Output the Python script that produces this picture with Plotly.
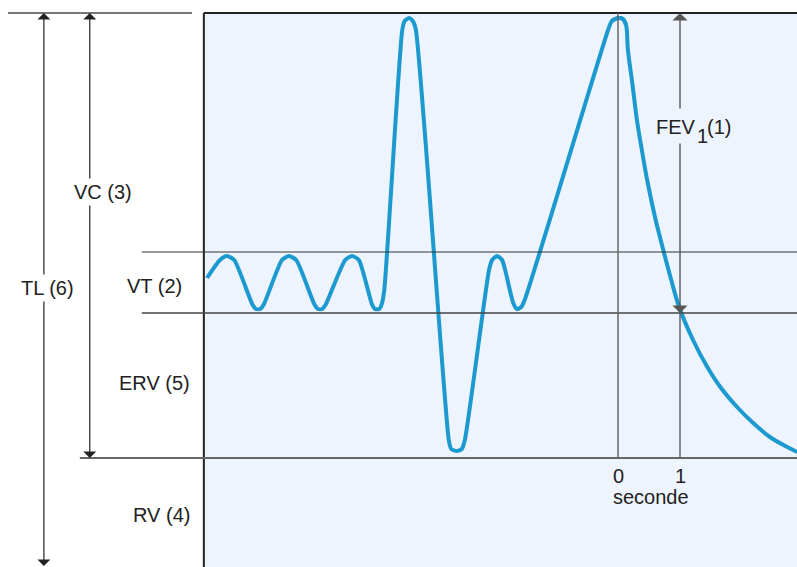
import plotly.graph_objects as go

# ---- data (time in seconds, volume in litres) ----
# breathing manoeuvre up to the maximal inspiration
curve_t = [-6.63, -6.42, -6.31, -6.19, -5.90, -5.84, -5.77, -5.71, -5.42, -5.31,
           -5.19, -4.90, -4.84, -4.77, -4.71, -4.40, -4.29, -4.18, -3.97, -3.92,
           -3.85, -3.81, -3.77, -3.48, -3.44, -3.37, -3.31, -3.26, -2.73, -2.69,
           -2.60, -2.52, -2.47, -2.08, -2.03, -1.95, -1.87, -1.82, -1.69, -1.63,
           -1.56, -1.50, -0.16, -0.10, 0.00, 0.08, 0.13]
curve_v = [2.89, 3.07, 3.11, 3.07, 2.63, 2.58, 2.58, 2.63, 3.07, 3.11,
           3.07, 2.63, 2.58, 2.58, 2.63, 3.07, 3.11, 3.07, 2.63, 2.58,
           2.58, 2.63, 2.77, 5.37, 5.46, 5.49, 5.46, 5.37, 1.27, 1.18,
           1.16, 1.18, 1.27, 2.97, 3.07, 3.11, 3.07, 2.97, 2.64, 2.58,
           2.60, 2.68, 5.37, 5.46, 5.49, 5.48, 5.42]
# forced expiration
forced_t = [-0.10, 0.00, 0.08, 0.13, 0.16, 0.23, 0.31, 0.39, 0.47, 0.60,
            0.73, 0.85, 0.98, 1.21, 1.44, 1.65, 1.92, 2.18, 2.45, 2.73, 2.89]
forced_v = [5.46, 5.49, 5.48, 5.42, 5.17, 4.84, 4.45, 4.15, 3.87, 3.49,
            3.17, 2.89, 2.61, 2.27, 2.00, 1.80, 1.60, 1.44, 1.30, 1.20, 1.15]

TLC = 5.54          # total lung capacity level
VT_TOP = 3.15       # end of tidal inspiration
FRC = 2.54          # end of tidal expiration
RV = 1.09           # residual volume level

X_MIN, X_MAX = -9.968, 2.887
PLOT_LEFT = -6.68
Y_MIN, Y_MAX = 0.0, 5.67

tick_times = [0, 1]
tick_labels = ["0", "1"]
time_unit = "seconde"

TL_X = -9.26
VC_X = -8.52
LEVEL_LINE_X = -7.68
RV_LINE_X = -8.68
TOP_LINE_X = (-9.84, -6.87)

labels = [
    ("VC (3)", -8.31, 3.75),
    ("TL (6)", -9.21, 2.79),
    ("VT (2)", -7.47, 2.81),
    ("ERV (5)", -7.48, 1.84),
    ("RV (4)", -7.37, 0.52),
]

BLUE = "#1C9AD0"
BG = "#EEF4FD"
TXT = "#222222"
FONT = "Liberation Sans, Arial, sans-serif"

fig = go.Figure()
fig.add_trace(go.Scatter(x=curve_t, y=curve_v, mode="lines",
                         line=dict(color=BLUE, width=4, shape="spline", smoothing=0.6),
                         hoverinfo="skip"))
fig.add_trace(go.Scatter(x=forced_t, y=forced_v, mode="lines",
                         line=dict(color=BLUE, width=4, shape="spline", smoothing=1.0),
                         hoverinfo="skip"))

shapes = [
    dict(type="rect", x0=PLOT_LEFT, x1=X_MAX + 0.1, y0=Y_MIN - 0.1, y1=TLC,
         fillcolor=BG, line=dict(width=0), layer="below"),
    dict(type="line", x0=PLOT_LEFT, x1=X_MAX + 0.1, y0=TLC, y1=TLC, line=dict(color="#222", width=2)),
    dict(type="line", x0=PLOT_LEFT, x1=PLOT_LEFT, y0=Y_MIN - 0.1, y1=TLC, line=dict(color="#222", width=2)),
    dict(type="line", x0=TOP_LINE_X[0], x1=TOP_LINE_X[1], y0=TLC, y1=TLC, line=dict(color="#777", width=2)),
    dict(type="line", x0=LEVEL_LINE_X, x1=X_MAX + 0.1, y0=VT_TOP, y1=VT_TOP, line=dict(color="#333", width=1.2)),
    dict(type="line", x0=LEVEL_LINE_X, x1=X_MAX + 0.1, y0=FRC, y1=FRC, line=dict(color="#444", width=1.5)),
    dict(type="line", x0=RV_LINE_X, x1=X_MAX + 0.1, y0=RV, y1=RV, line=dict(color="#666", width=2)),
    dict(type="line", x0=tick_times[0], x1=tick_times[0], y0=RV, y1=TLC, line=dict(color="#666", width=1.5)),
    dict(type="line", x0=tick_times[1], x1=tick_times[1], y0=RV, y1=FRC, line=dict(color="#666", width=1.5)),
]

ann = []
def arrow(x, tip, tail, color="#222", width=1.2):
    ann.append(dict(x=x, y=tip, ax=x, ay=tail, xref="x", yref="y", axref="x", ayref="y",
                    text="", showarrow=True, arrowhead=1, arrowsize=1.8, arrowwidth=width,
                    arrowcolor=color, standoff=0))

arrow(TL_X, TLC, 2.8)
arrow(TL_X, 0.01, 2.8)
arrow(VC_X, TLC, 3.75)
arrow(VC_X, RV, 3.75)
arrow(1, TLC, 4.57, "#555", 1.4)
arrow(1, FRC, 4.25, "#555", 1.4)

for txt, x, y in labels:
    ann.append(dict(x=x, y=y, xref="x", yref="y", text=txt, showarrow=False,
                    bgcolor="white", borderpad=2,
                    font=dict(family=FONT, size=20, color=TXT)))

ann.append(dict(x=0.935, y=4.40, xref="x", yref="y", text="FEV", showarrow=False,
                font=dict(family=FONT, size=20, color=TXT)))
ann.append(dict(x=1.355, y=4.31, xref="x", yref="y", text="1", showarrow=False,
                font=dict(family=FONT, size=20, color=TXT)))
ann.append(dict(x=1.63, y=4.40, xref="x", yref="y", text="(1)", showarrow=False,
                font=dict(family=FONT, size=20, color=TXT)))

for t, lab in zip(tick_times, tick_labels):
    ann.append(dict(x=t, y=0.91, xref="x", yref="y", text=lab, showarrow=False,
                    font=dict(family=FONT, size=20, color=TXT)))
ann.append(dict(x=0.53, y=0.70, xref="x", yref="y", text=time_unit, showarrow=False,
                font=dict(family=FONT, size=20, color=TXT)))

fig.update_layout(
    width=797, height=567,
    margin=dict(l=0, r=0, t=0, b=0),
    paper_bgcolor="white", plot_bgcolor="white",
    showlegend=False,
    xaxis=dict(range=[X_MIN, X_MAX], visible=False, fixedrange=True),
    yaxis=dict(range=[Y_MIN, Y_MAX], visible=False, fixedrange=True),
    shapes=shapes, annotations=ann,
)
fig.write_html("out.html", config={"displayModeBar": False},
               post_script="document.body.style.margin='0px';")
